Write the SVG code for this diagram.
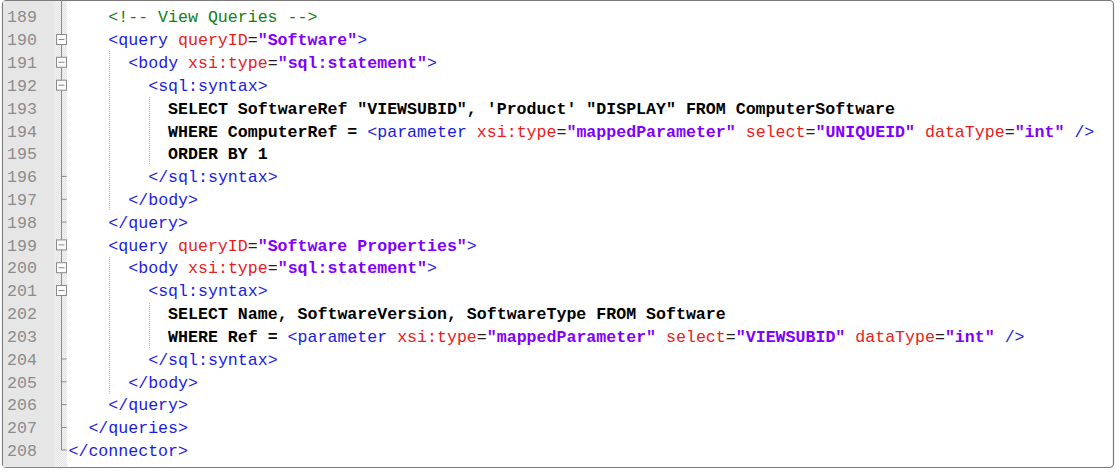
<svg xmlns="http://www.w3.org/2000/svg" width="1120" height="474" viewBox="0 0 1120 474">
<style>
.code{font-family:"Liberation Mono","Courier New",monospace;font-size:16.6px;white-space:pre;fill:#000}
.n{fill:#8c8c8c}
.t{fill:#1a1ae6}
.a{fill:#e82020}
.e{fill:#202020}
.v{fill:#8000ff;font-weight:bold}
.k{fill:#108010}
.b{font-weight:bold;fill:#000}
.guide{stroke:#b8b8b8;stroke-width:1;stroke-dasharray:1 1}
.fold{stroke:#8a8a8a;stroke-width:1;fill:none}
.fbox{stroke:#8a8a8a;stroke-width:1;fill:#fafafa}
</style>
<defs>
<pattern id="hatch" width="2" height="2" patternUnits="userSpaceOnUse">
<rect width="2" height="2" fill="#f4f4f4"/>
<rect width="1" height="1" fill="#e2e2e2"/>
<rect x="1" y="1" width="1" height="1" fill="#e2e2e2"/>
</pattern>
</defs>
<rect x="0" y="0" width="1120" height="474" fill="#ffffff"/>
<g id="editor">
<rect x="2.5" y="0.5" width="1111" height="467" rx="4" fill="#ffffff" stroke="#7a7a7a" stroke-width="1.2"/>
<rect x="3.1" y="1.1" width="51" height="466" fill="#e6e6e6"/>
<rect x="54.1" y="1.1" width="13" height="466" fill="url(#hatch)"/>
</g>
<g id="gutter-numbers" class="code n">
<text x="7" y="22.4">189</text>
<text x="7" y="45.2">190</text>
<text x="7" y="68.0">191</text>
<text x="7" y="90.9">192</text>
<text x="7" y="113.7">193</text>
<text x="7" y="136.5">194</text>
<text x="7" y="159.3">195</text>
<text x="7" y="182.1">196</text>
<text x="7" y="205.0">197</text>
<text x="7" y="227.8">198</text>
<text x="7" y="250.6">199</text>
<text x="7" y="273.4">200</text>
<text x="7" y="296.2">201</text>
<text x="7" y="319.1">202</text>
<text x="7" y="341.9">203</text>
<text x="7" y="364.7">204</text>
<text x="7" y="387.5">205</text>
<text x="7" y="410.3">206</text>
<text x="7" y="433.2">207</text>
<text x="7" y="456.0">208</text>
</g>
<g id="connectors">
<path class="fold" d="M61.5 0 V450 H66.5"/>
<path class="fold" d="M61.5 176.4 H66.5 M61.5 199.3 H66.5 M61.5 222.1 H66.5 M61.5 359 H66.5 M61.5 381.8 H66.5 M61.5 404.6 H66.5 M61.5 427.5 H66.5"/>
<line class="guide" x1="109.5" y1="51" x2="109.5" y2="211"/>
<line class="guide" x1="149.5" y1="97" x2="149.5" y2="165"/>
<line class="guide" x1="109.5" y1="257" x2="109.5" y2="394"/>
<line class="guide" x1="149.5" y1="303" x2="149.5" y2="348"/>
</g>
<g id="fold-markers">
<rect class="fbox" x="56.5" y="34.5" width="10" height="10"/><path class="fold" d="M58.5 39.5 H64.5"/>
<rect class="fbox" x="56.5" y="57.3" width="10" height="10"/><path class="fold" d="M58.5 62.3 H64.5"/>
<rect class="fbox" x="56.5" y="80.2" width="10" height="10"/><path class="fold" d="M58.5 85.2 H64.5"/>
<rect class="fbox" x="56.5" y="239.9" width="10" height="10"/><path class="fold" d="M58.5 244.9 H64.5"/>
<rect class="fbox" x="56.5" y="262.7" width="10" height="10"/><path class="fold" d="M58.5 267.7 H64.5"/>
<rect class="fbox" x="56.5" y="285.5" width="10" height="10"/><path class="fold" d="M58.5 290.5 H64.5"/>
</g>
<g id="code" class="code" xml:space="preserve">
<text x="108.3" y="22.4"><tspan class="k">&lt;!-- View Queries --&gt;</tspan></text>
<text x="108.3" y="45.2"><tspan class="t">&lt;query</tspan><tspan class="a"> queryID</tspan><tspan class="e">=</tspan><tspan class="v">"Software"</tspan><tspan class="t">&gt;</tspan></text>
<text x="128.3" y="68.0"><tspan class="t">&lt;body</tspan><tspan class="a"> xsi:type</tspan><tspan class="e">=</tspan><tspan class="v">"sql:statement"</tspan><tspan class="t">&gt;</tspan></text>
<text x="148.2" y="90.9"><tspan class="t">&lt;sql:syntax&gt;</tspan></text>
<text x="168.1" y="113.7" class="b">SELECT SoftwareRef "VIEWSUBID", 'Product' "DISPLAY" FROM ComputerSoftware</text>
<text x="168.1" y="136.5"><tspan class="b">WHERE ComputerRef = </tspan><tspan class="t">&lt;parameter</tspan><tspan class="a"> xsi:type</tspan><tspan class="e">=</tspan><tspan class="v">"mappedParameter"</tspan><tspan class="a"> select</tspan><tspan class="e">=</tspan><tspan class="v">"UNIQUEID"</tspan><tspan class="a"> dataType</tspan><tspan class="e">=</tspan><tspan class="v">"int"</tspan><tspan class="t"> /&gt;</tspan></text>
<text x="168.1" y="159.3" class="b">ORDER BY 1</text>
<text x="148.2" y="182.1"><tspan class="t">&lt;/sql:syntax&gt;</tspan></text>
<text x="128.3" y="205.0"><tspan class="t">&lt;/body&gt;</tspan></text>
<text x="108.3" y="227.8"><tspan class="t">&lt;/query&gt;</tspan></text>
<text x="108.3" y="250.6"><tspan class="t">&lt;query</tspan><tspan class="a"> queryID</tspan><tspan class="e">=</tspan><tspan class="v">"Software Properties"</tspan><tspan class="t">&gt;</tspan></text>
<text x="128.3" y="273.4"><tspan class="t">&lt;body</tspan><tspan class="a"> xsi:type</tspan><tspan class="e">=</tspan><tspan class="v">"sql:statement"</tspan><tspan class="t">&gt;</tspan></text>
<text x="148.2" y="296.2"><tspan class="t">&lt;sql:syntax&gt;</tspan></text>
<text x="168.1" y="319.1" class="b">SELECT Name, SoftwareVersion, SoftwareType FROM Software</text>
<text x="168.1" y="341.9"><tspan class="b">WHERE Ref = </tspan><tspan class="t">&lt;parameter</tspan><tspan class="a"> xsi:type</tspan><tspan class="e">=</tspan><tspan class="v">"mappedParameter"</tspan><tspan class="a"> select</tspan><tspan class="e">=</tspan><tspan class="v">"VIEWSUBID"</tspan><tspan class="a"> dataType</tspan><tspan class="e">=</tspan><tspan class="v">"int"</tspan><tspan class="t"> /&gt;</tspan></text>
<text x="148.2" y="364.7"><tspan class="t">&lt;/sql:syntax&gt;</tspan></text>
<text x="128.3" y="387.5"><tspan class="t">&lt;/body&gt;</tspan></text>
<text x="108.3" y="410.3"><tspan class="t">&lt;/query&gt;</tspan></text>
<text x="88.4" y="433.2"><tspan class="t">&lt;/queries&gt;</tspan></text>
<text x="68.5" y="456.0"><tspan class="t">&lt;/connector&gt;</tspan></text>
</g>
</svg>
